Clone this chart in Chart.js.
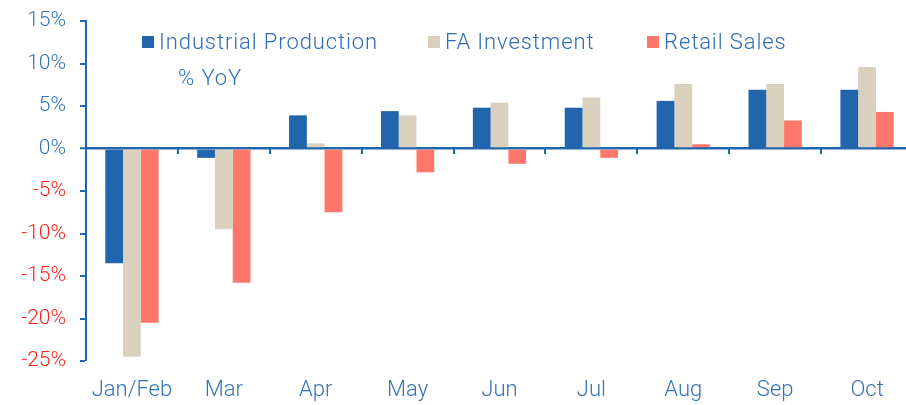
<!DOCTYPE html>
<html>
<head>
<meta charset="utf-8">
<script src="https://cdn.jsdelivr.net/npm/chart.js@4/dist/chart.umd.min.js"></script>
<style>
  html, body { margin: 0; padding: 0; background: #fff; overflow: hidden; }
  #wrap { position: relative; width: 906px; height: 405px; overflow: hidden; font-family: Roboto, sans-serif; font-weight: 300; }
  #wrap canvas { position: absolute; left: 0; top: 0; }
  .leg { position: absolute; top: 29px; font-size: 22px; letter-spacing: 0.9px; color: #2f6db5; white-space: nowrap; }
  .leg i { display: inline-block; width: 12px; height: 12px; margin-right: 5px; vertical-align: 1px; }
  #yoy { position: absolute; left: 178px; top: 65px; font-size: 22px; letter-spacing: 0.9px; color: #2f6db5; }
</style>
</head>
<body>
<div id="wrap">
  <!-- plot runs a little past the right edge, as in the source image -->
  <canvas id="chart" width="913" height="405"></canvas>
  <div class="leg" style="left:142px"><i style="background:#2166ac"></i>Industrial Production</div>
  <div class="leg" style="left:428px"><i style="background:#d9d1bd"></i>FA Investment</div>
  <div class="leg" style="left:647px"><i style="background:#ff776b"></i>Retail Sales</div>
  <div id="yoy">% YoY</div>
</div>
<script>
const months = ['Jan/Feb', 'Mar', 'Apr', 'May', 'Jun', 'Jul', 'Aug', 'Sep', 'Oct'];
const industrialProduction = [-13.5, -1.1, 3.9, 4.4, 4.8, 4.8, 5.6, 6.9, 6.9];
const faInvestment = [-24.5, -9.5, 0.6, 3.9, 5.4, 6.0, 7.6, 7.6, 9.6];
const retailSales = [-20.5, -15.8, -7.5, -2.8, -1.8, -1.1, 0.5, 3.3, 4.3];

const axisBlue = '#2166ac';
const labelBlue = '#3573b9';
const negRed = '#ff1f1f';

const ctx = document.getElementById('chart').getContext('2d');
ctx.letterSpacing = '1px';

const barChart = new Chart(ctx, {
    type: 'bar',
    data: {
        labels: months,
        datasets: [{
            label: 'Industrial Production',
            data: industrialProduction,
            backgroundColor: '#2166ac'
        }, {
            label: 'FA Investment',
            data: faInvestment,
            backgroundColor: '#d9d1bd'
        }, {
            label: 'Retail Sales',
            data: retailSales,
            backgroundColor: '#ff776b'
        }]
    },
    options: {
        responsive: false,
        animation: false,
        datasets: {
            bar: { categoryPercentage: 0.58, barPercentage: 1 }
        },
        layout: { padding: { top: 21, right: 0, left: 0, bottom: 0 } },
        scales: {
            x: {
                grid: { display: false },
                border: { display: false },
                afterFit: (s) => { s.height = 44; },
                ticks: {
                    color: labelBlue,
                    font: { family: 'Roboto', size: 22, weight: 300 },
                    padding: 8,
                    maxRotation: 0
                }
            },
            x2: {
                type: 'category',
                labels: months,
                position: { y: 0 },
                offset: true,
                grid: {
                    offset: true,
                    drawOnChartArea: false,
                    tickLength: 5,
                    tickColor: axisBlue,
                    lineWidth: 2
                },
                border: { display: false },
                ticks: { display: false }
            },
            y: {
                min: -25,
                max: 15,
                afterFit: (s) => { s.width = 86; s.paddingTop = 0; s.paddingBottom = 0; },
                ticks: {
                    stepSize: 5,
                    padding: 14,
                    font: { family: 'Roboto', size: 21, weight: 300 },
                    color: (c) => c.tick.value < 0 ? negRed : labelBlue,
                    callback: (v) => v + '%'
                },
                grid: {
                    color: (c) => c.tick && c.tick.value === 0 ? axisBlue : 'rgba(0,0,0,0)',
                    lineWidth: (c) => c.tick && c.tick.value === 0 ? 2.5 : 0,
                    tickColor: axisBlue,
                    tickWidth: 2,
                    tickLength: 6
                },
                border: { color: axisBlue, width: 2 }
            }
        },
        plugins: {
            legend: { display: false },
            tooltip: { enabled: false }
        }
    }
});
</script>
</body>
</html>
